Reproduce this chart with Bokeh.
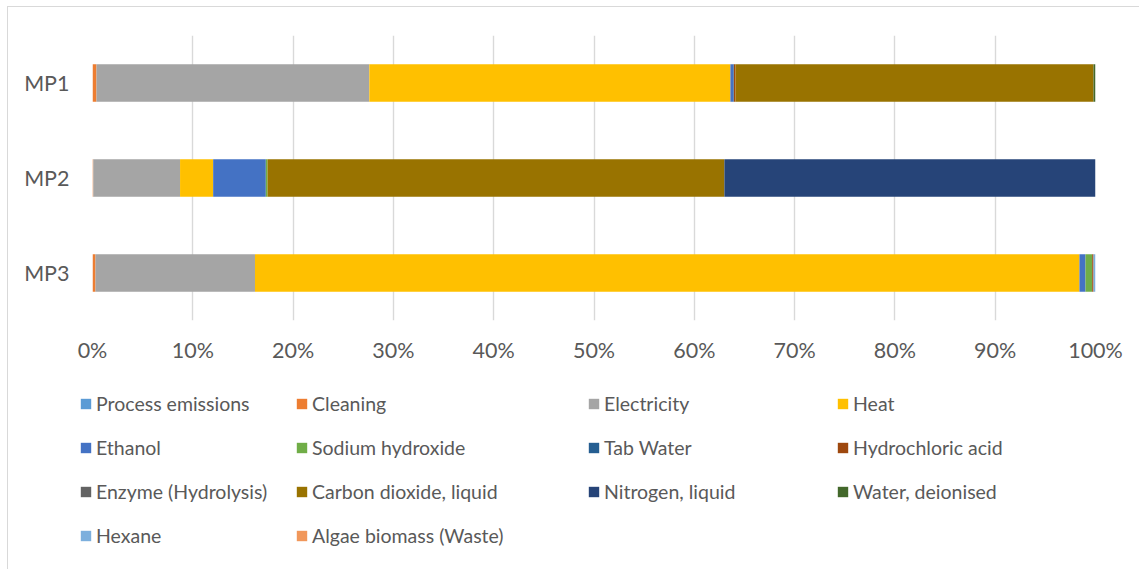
from bokeh.plotting import figure
from bokeh.layouts import column
from bokeh.models import (ColumnDataSource, FactorRange, Range1d, FixedTicker,
                          PrintfTickFormatter, Legend, LegendItem)
from bokeh.embed import file_html
from bokeh.resources import INLINE

# Share of each contribution per process (%)
categories = ["MP1", "MP2", "MP3"]

process_emissions = [0.0, 0.0, 0.0]
cleaning = [0.4, 0.08, 0.3]
electricity = [27.2, 8.65, 15.9]
heat = [36.0, 3.3, 82.2]
ethanol = [0.3, 5.25, 0.6]
sodium_hydroxide = [0.0, 0.17, 0.67]
tab_water = [0.05, 0.0, 0.0]
hydrochloric_acid = [0.15, 0.0, 0.13]
enzyme_hydrolysis = [0.0, 0.0, 0.0]
carbon_dioxide_liquid = [35.7, 45.55, 0.0]
nitrogen_liquid = [0.0, 37.0, 0.0]
water_deionised = [0.2, 0.0, 0.0]
hexane = [0.0, 0.0, 0.2]
algae_biomass_waste = [0.0, 0.0, 0.0]

series_labels = [
    "Process emissions", "Cleaning", "Electricity", "Heat",
    "Ethanol", "Sodium hydroxide", "Tab Water", "Hydrochloric acid",
    "Enzyme (Hydrolysis)", "Carbon dioxide, liquid", "Nitrogen, liquid", "Water, deionised",
    "Hexane", "Algae biomass (Waste)",
]
series_values = [
    process_emissions, cleaning, electricity, heat,
    ethanol, sodium_hydroxide, tab_water, hydrochloric_acid,
    enzyme_hydrolysis, carbon_dioxide_liquid, nitrogen_liquid, water_deionised,
    hexane, algae_biomass_waste,
]
colors = [
    "#5B9BD5", "#ED7D31", "#A5A5A5", "#FFC000",
    "#4472C4", "#70AD47", "#255E91", "#9E480E",
    "#636363", "#997300", "#264478", "#43682B",
    "#7CAFDD", "#F1975A",
]
percent_ticks = [0, 10, 20, 30, 40, 50, 60, 70, 80, 90, 100]

keys = [f"s{i}" for i in range(len(series_labels))]
data = {"cat": categories}
for k, vals in zip(keys, series_values):
    data[k] = vals
source = ColumnDataSource(data)

FONT = "Lato"
AXIS_FONT_SIZE = "21.5px"
LEGEND_FONT_SIZE = "19.5px"
TEXT_COLOR = "#595959"
GRID_COLOR = "#D9D9D9"
W = 1139
TOP_H = 380
LEGEND_H = 569 - TOP_H

# ---- stacked bar chart ----
p = figure(
    width=W, height=TOP_H,
    y_range=FactorRange(factors=list(reversed(categories))),
    x_range=Range1d(0, 100),
    output_backend="svg", toolbar_location=None,
    min_border_left=92, min_border_right=44,
    min_border_top=35, min_border_bottom=TOP_H - 320,
)
p.frame_align = False
p.border_fill_color = None
p.background_fill_color = None
p.outline_line_color = None

p.hbar_stack(keys, y="cat", height=0.395, color=colors,
             line_color=None, source=source)

p.xaxis.ticker = FixedTicker(ticks=percent_ticks)
p.xgrid.ticker = FixedTicker(ticks=percent_ticks)
p.xaxis.formatter = PrintfTickFormatter(format="%d%%")
p.xgrid.grid_line_color = GRID_COLOR
p.xgrid.grid_line_width = 1.4
p.ygrid.grid_line_color = None

for ax in (p.xaxis[0], p.yaxis[0]):
    ax.axis_line_color = None
    ax.major_tick_line_color = None
    ax.minor_tick_line_color = None
    ax.major_label_text_font = FONT
    ax.major_label_text_font_size = AXIS_FONT_SIZE
    ax.major_label_text_color = TEXT_COLOR
p.xaxis.major_label_standoff = 10
p.yaxis.major_label_standoff = 17

# ---- legend panel: four columns of entries ----
lg = figure(
    width=W, height=LEGEND_H,
    x_range=Range1d(0, 1), y_range=Range1d(0, 1),
    x_axis_type=None, y_axis_type=None,
    output_backend="svg", toolbar_location=None,
    min_border_left=0, min_border_right=0, min_border_top=0, min_border_bottom=0,
)
lg.frame_align = False
lg.border_fill_color = None
lg.background_fill_color = None
lg.outline_line_color = None
lg.xgrid.visible = False
lg.ygrid.visible = False

# off-screen rows: these renderers only supply the legend swatches
hidden = ColumnDataSource({"y": [-10.0], "left": [0.0], "right": [0.0]})
swatches = [
    lg.hbar(y="y", left="left", right="right", height=0.5, color=c,
            line_color=None, source=hidden)
    for c in colors
]

columns = [[0, 4, 8, 12], [1, 5, 9, 13], [2, 6, 10], [3, 7, 11]]
col_x = [79, 295, 587, 836]
label_h, gap = 28, 16
first_row_top = 23 - label_h / 2
for idx, cx in zip(columns, col_x):
    n = len(idx)
    height = n * label_h + (n - 1) * gap
    leg = Legend(
        items=[LegendItem(label=series_labels[i], renderers=[swatches[i]]) for i in idx],
        location=(cx, LEGEND_H - first_row_top - height),
        orientation="vertical",
        glyph_width=13, glyph_height=13,
        label_standoff=4, label_height=label_h, spacing=gap,
        padding=0, margin=0,
        border_line_color=None, background_fill_alpha=0,
        label_text_font=FONT, label_text_font_size=LEGEND_FONT_SIZE,
        label_text_color=TEXT_COLOR,
    )
    lg.add_layout(leg, "center")

# thin chart-area frame along the top and left edges
layout = column(p, lg, spacing=0, styles={
    "background": (
        f"linear-gradient({GRID_COLOR},{GRID_COLOR}) 7px 6px / 1px 100% no-repeat, "
        f"linear-gradient({GRID_COLOR},{GRID_COLOR}) 7px 6px / 100% 1px no-repeat, white"
    )
})

open("out.html", "w").write(file_html(layout, INLINE))
